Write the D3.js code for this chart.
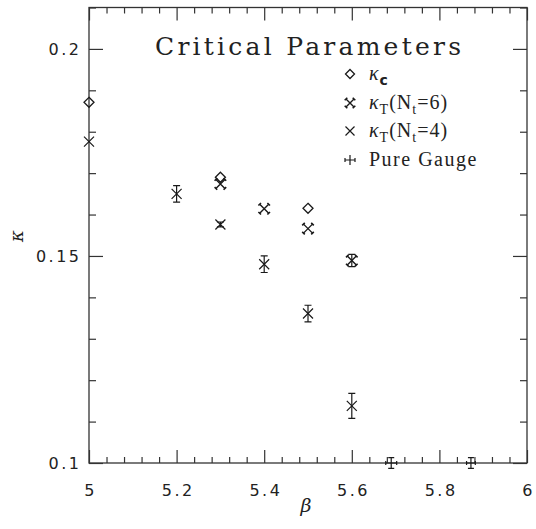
<!DOCTYPE html>
<html>
<head>
<meta charset="utf-8">
<script src="https://cdn.jsdelivr.net/npm/d3@7"></script>
<style>
  body { margin: 0; background: #fff; }
  svg { display: block; }
  .tick text { font-family: "DejaVu Sans", sans-serif; font-size: 16px; letter-spacing: 2.5px; fill: #222; }
  .domain { stroke: #333; stroke-width: 1.3; }
  .tick line { stroke: #333; stroke-width: 1.2; }
</style>
</head>
<body>
<div id="chart"></div>
<script>
// data
var betaC = [5.0, 5.3, 5.5];
var kappaC = [0.1871, 0.1690, 0.1615];

var betaT6 = [5.3, 5.4, 5.5, 5.6];
var kappaT6 = [0.1674, 0.1614, 0.1566, 0.1489];
var errT6 = [0, 0, 0, 0.0015];

var betaT4 = [5.0, 5.2, 5.3, 5.4, 5.5, 5.6];
var kappaT4 = [0.1776, 0.1650, 0.1576, 0.1480, 0.1361, 0.1138];
var errT4 = [0, 0.002, 0.0006, 0.002, 0.002, 0.003];

var betaPG = [5.69, 5.872];
var kappaPG = [0.1, 0.1];
var betaErrPG = [0.0125, 0.01];
var kappaErrPG = [0.0013, 0.0013];

var xMajor = [5, 5.2, 5.4, 5.6, 5.8, 6];
var yMajor = [0.1, 0.15, 0.2];

var W = 536, H = 529;
var margin = { top: 7.5, right: 9, bottom: 66, left: 89 };
var width = W - margin.left - margin.right,
    height = H - margin.top - margin.bottom;

var svg = d3.select("#chart").append("svg")
    .attr("width", W)
    .attr("height", H);
var g = svg.append("g")
    .attr("transform", "translate(" + margin.left + "," + margin.top + ")");

var x = d3.scaleLinear().domain([5, 6]).range([0, width]);
var y = d3.scaleLinear().domain([0.1, 0.21]).range([height, 0]);

var xMinor = d3.range(0, 26).map(function (i) { return +(5 + i * 0.04).toFixed(2); })
    .filter(function (v) { return xMajor.indexOf(v) < 0; });
var yMinor = d3.range(0, 12).map(function (i) { return +(0.1 + i * 0.01).toFixed(2); })
    .filter(function (v) { return yMajor.indexOf(v) < 0; });

// frame
g.append("rect").attr("width", width).attr("height", height)
    .attr("fill", "none").attr("stroke", "#333").attr("stroke-width", 1.3);

// bottom / top axes
g.append("g").attr("transform", "translate(0," + height + ")")
    .call(d3.axisBottom(x).tickValues(xMajor).tickSize(-13).tickPadding(22)
        .tickFormat(function (d) { return d3.format("")(d); }))
    .call(function (a) { a.select(".domain").remove(); a.selectAll("text").attr("dx", "1.2px"); });
g.append("g").attr("transform", "translate(0," + height + ")")
    .call(d3.axisBottom(x).tickValues(xMinor).tickSize(-6).tickFormat(""))
    .call(function (a) { a.select(".domain").remove(); });
g.append("g")
    .call(d3.axisTop(x).tickValues(xMajor).tickSize(-13).tickFormat(""))
    .call(function (a) { a.select(".domain").remove(); });
g.append("g")
    .call(d3.axisTop(x).tickValues(xMinor).tickSize(-6).tickFormat(""))
    .call(function (a) { a.select(".domain").remove(); });

// left / right axes
g.append("g")
    .call(d3.axisLeft(y).tickValues(yMajor).tickSize(-14).tickPadding(10)
        .tickFormat(function (d) { return d3.format("")(d); }))
    .call(function (a) { a.select(".domain").remove(); a.selectAll("text").attr("dx", "2.5px"); });
g.append("g")
    .call(d3.axisLeft(y).tickValues(yMinor).tickSize(-7).tickFormat(""))
    .call(function (a) { a.select(".domain").remove(); });
g.append("g").attr("transform", "translate(" + width + ",0)")
    .call(d3.axisRight(y).tickValues(yMajor).tickSize(-14).tickFormat(""))
    .call(function (a) { a.select(".domain").remove(); });
g.append("g").attr("transform", "translate(" + width + ",0)")
    .call(d3.axisRight(y).tickValues(yMinor).tickSize(-7).tickFormat(""))
    .call(function (a) { a.select(".domain").remove(); });

// axis titles
svg.append("text")
    .attr("x", 306).attr("y", 512)
    .attr("text-anchor", "middle")
    .style("font-family", "DejaVu Serif, serif").style("font-style", "italic")
    .style("font-size", "19px").attr("fill", "#222")
    .text("β");
svg.append("text")
    .attr("transform", "translate(23,236) rotate(-90)")
    .attr("text-anchor", "middle")
    .style("font-family", "DejaVu Serif, serif").style("font-style", "italic")
    .style("font-size", "18px").attr("fill", "#222")
    .text("κ");

// title
svg.append("text")
    .attr("x", 155).attr("y", 55)
    .attr("textLength", 306).attr("lengthAdjust", "spacing")
    .style("font-family", "DejaVu Serif, serif")
    .style("font-size", "25px").attr("fill", "#222")
    .text("Critical Parameters");

var ink = "#1a1a1a";

// marker helpers
function diamond(sel, cx, cy, r) {
    sel.append("path")
        .attr("d", "M" + cx + "," + (cy - r) + "L" + (cx + r) + "," + cy + "L" + cx + "," + (cy + r) + "L" + (cx - r) + "," + cy + "Z")
        .attr("fill", "none").attr("stroke", ink).attr("stroke-width", 1.3);
}
function cross(sel, cx, cy, r, serif) {
    sel.append("path")
        .attr("d", "M" + (cx - r) + "," + (cy - r) + "L" + (cx + r) + "," + (cy + r) + "M" + (cx - r) + "," + (cy + r) + "L" + (cx + r) + "," + (cy - r))
        .attr("fill", "none").attr("stroke", ink).attr("stroke-width", serif ? 1.4 : 1.2);
    if (serif) {
        var s = 1.3, d = "";
        [[-1, -1], [1, 1], [-1, 1], [1, -1]].forEach(function (p) {
            var ex = cx + p[0] * r, ey = cy + p[1] * r;
            // short stroke perpendicular to arm
            d += "M" + (ex - p[1] * s) + "," + (ey + p[0] * s) + "L" + (ex + p[1] * s) + "," + (ey - p[0] * s);
        });
        sel.append("path").attr("d", d).attr("fill", "none").attr("stroke", ink).attr("stroke-width", 1.6);
    }
}
function vbar(sel, cx, y1, y2, cap) {
    sel.append("path")
        .attr("d", "M" + cx + "," + y1 + "L" + cx + "," + y2 +
            "M" + (cx - cap) + "," + y1 + "L" + (cx + cap) + "," + y1 +
            "M" + (cx - cap) + "," + y2 + "L" + (cx + cap) + "," + y2)
        .attr("fill", "none").attr("stroke", ink).attr("stroke-width", 1.2);
}
function hbar(sel, cy, x1, x2, cap) {
    sel.append("path")
        .attr("d", "M" + x1 + "," + cy + "L" + x2 + "," + cy +
            "M" + x1 + "," + (cy - cap) + "L" + x1 + "," + (cy + cap) +
            "M" + x2 + "," + (cy - cap) + "L" + x2 + "," + (cy + cap))
        .attr("fill", "none").attr("stroke", ink).attr("stroke-width", 1.2);
}

var marks = g.append("g");

betaC.forEach(function (b, i) { diamond(marks, x(b), y(kappaC[i]), 5); });

betaT6.forEach(function (b, i) {
    cross(marks, x(b), y(kappaT6[i]), 4.5, true);
    if (errT6[i] > 0) vbar(marks, x(b), y(kappaT6[i] + errT6[i]), y(kappaT6[i] - errT6[i]), 3.5);
});

betaT4.forEach(function (b, i) {
    cross(marks, x(b), y(kappaT4[i]), 5, false);
    if (errT4[i] > 0) vbar(marks, x(b), y(kappaT4[i] + errT4[i]), y(kappaT4[i] - errT4[i]), 3.5);
});

betaPG.forEach(function (b, i) {
    vbar(marks, x(b), y(kappaPG[i] + kappaErrPG[i]), y(kappaPG[i] - kappaErrPG[i]), 3);
    hbar(marks, y(kappaPG[i]), x(b - betaErrPG[i]), x(b + betaErrPG[i]), 2);
});

// legend
var legendRows = [74, 103, 131, 160];
var lx = 350, tx = 369;
var leg = svg.append("g");
diamond(leg, lx, legendRows[0], 4.5);
cross(leg, lx, legendRows[1], 4, true);
cross(leg, lx, legendRows[2], 4.5, false);
leg.append("path")
    .attr("d", "M" + (lx - 5) + "," + legendRows[3] + "L" + (lx + 5) + "," + legendRows[3] +
        "M" + lx + "," + (legendRows[3] - 5) + "L" + lx + "," + (legendRows[3] + 5) +
        "M" + (lx - 5) + "," + (legendRows[3] - 2) + "L" + (lx - 5) + "," + (legendRows[3] + 2) +
        "M" + (lx + 5) + "," + (legendRows[3] - 2) + "L" + (lx + 5) + "," + (legendRows[3] + 2))
    .attr("fill", "none").attr("stroke", ink).attr("stroke-width", 1.2);

function legText(row) {
    return leg.append("text").attr("x", tx).attr("y", row + 6)
        .style("font-family", "Liberation Serif, serif")
        .style("font-size", "20px").style("letter-spacing", "1px").attr("fill", "#222");
}
var t0 = legText(legendRows[0]);
t0.append("tspan").style("font-style", "italic").text("κ");
t0.append("tspan").attr("dy", 5).style("font-size", "14px").style("font-family", "DejaVu Sans, sans-serif").style("font-weight", "bold").text("c");

[["6", legendRows[1]], ["4", legendRows[2]]].forEach(function (p) {
    var t = legText(p[1]);
    t.append("tspan").style("font-style", "italic").text("κ");
    t.append("tspan").attr("dy", 5).style("font-size", "14px").text("T");
    t.append("tspan").attr("dy", -5).text("(N");
    t.append("tspan").attr("dy", 5).style("font-size", "14px").text("t");
    t.append("tspan").attr("dy", -5).text("=" + p[0] + ")");
});

var t3 = legText(legendRows[3]);
t3.style("letter-spacing", "1.5px").text("Pure Gauge");
</script>
</body>
</html>
